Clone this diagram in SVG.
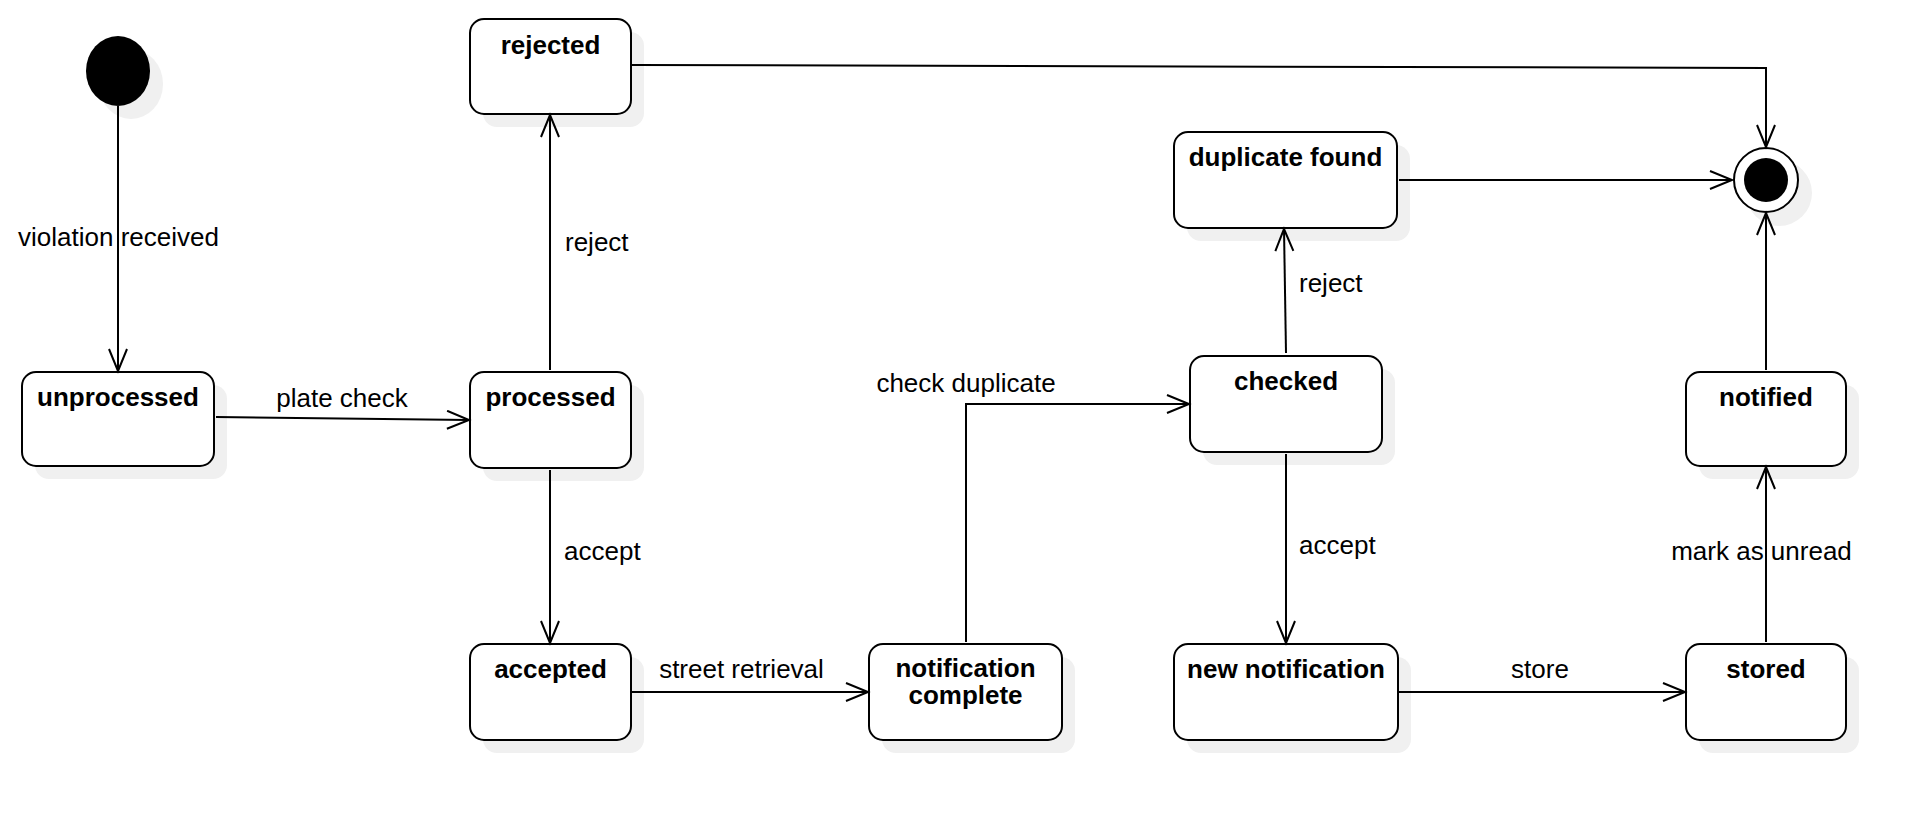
<svg xmlns="http://www.w3.org/2000/svg" width="1930" height="820" viewBox="0 0 1930 820">
<style>
.box{fill:#ffffff;stroke:#000000;stroke-width:2}
.sh{fill:#f0f0f0;stroke:none}
.nt{font-family:"Liberation Sans",Arial,Helvetica,sans-serif;font-size:26px;font-weight:bold;fill:#000;text-anchor:middle}
.lb{font-family:"Liberation Sans",Arial,Helvetica,sans-serif;font-size:26px;fill:#000}
.e{fill:none;stroke:#000;stroke-width:2}
</style>
<defs>
<marker id="arr" markerUnits="userSpaceOnUse" markerWidth="30" markerHeight="24" refX="23" refY="10" orient="auto" viewBox="0 0 30 24">
<path d="M1,1 L23,10 L1,19" fill="none" stroke="#000" stroke-width="2"/>
</marker>
</defs>
<rect width="1930" height="820" fill="#ffffff"/>

<g id="initial">
<ellipse cx="131" cy="84" rx="32" ry="35" class="sh"/>
<ellipse cx="118" cy="71" rx="32" ry="35" fill="#000"/>
</g>
<g id="final">
<circle cx="1779" cy="193" r="33" class="sh"/>
<circle cx="1766" cy="180" r="32" fill="#fff" stroke="#000" stroke-width="2"/>
<circle cx="1766" cy="180" r="22" fill="#000"/>
</g>

<g id="rejected">
<rect x="483" y="32" width="161" height="95" rx="14" class="sh"/>
<rect x="470" y="19" width="161" height="95" rx="14" class="box"/>
<text x="550.5" y="54" class="nt">rejected</text>
</g>
<g id="unprocessed">
<rect x="35" y="385" width="192" height="94" rx="14" class="sh"/>
<rect x="22" y="372" width="192" height="94" rx="14" class="box"/>
<text x="118" y="406" class="nt">unprocessed</text>
</g>
<g id="processed">
<rect x="483" y="385" width="161" height="96" rx="14" class="sh"/>
<rect x="470" y="372" width="161" height="96" rx="14" class="box"/>
<text x="550.5" y="406" class="nt">processed</text>
</g>
<g id="accepted">
<rect x="483" y="657" width="161" height="96" rx="14" class="sh"/>
<rect x="470" y="644" width="161" height="96" rx="14" class="box"/>
<text x="550.5" y="678" class="nt">accepted</text>
</g>
<g id="notification-complete">
<rect x="882" y="657" width="193" height="96" rx="14" class="sh"/>
<rect x="869" y="644" width="193" height="96" rx="14" class="box"/>
<text x="965.5" y="677" class="nt">notification</text>
<text x="965.5" y="704" class="nt">complete</text>
</g>
<g id="duplicate-found">
<rect x="1187" y="145" width="223" height="96" rx="14" class="sh"/>
<rect x="1174" y="132" width="223" height="96" rx="14" class="box"/>
<text x="1285.5" y="166" class="nt">duplicate found</text>
</g>
<g id="checked">
<rect x="1203" y="369" width="192" height="96" rx="14" class="sh"/>
<rect x="1190" y="356" width="192" height="96" rx="14" class="box"/>
<text x="1286" y="390" class="nt">checked</text>
</g>
<g id="new-notification">
<rect x="1187" y="657" width="224" height="96" rx="14" class="sh"/>
<rect x="1174" y="644" width="224" height="96" rx="14" class="box"/>
<text x="1286" y="678" class="nt">new notification</text>
</g>
<g id="stored">
<rect x="1699" y="657" width="160" height="96" rx="14" class="sh"/>
<rect x="1686" y="644" width="160" height="96" rx="14" class="box"/>
<text x="1766" y="678" class="nt">stored</text>
</g>
<g id="notified">
<rect x="1699" y="385" width="160" height="94" rx="14" class="sh"/>
<rect x="1686" y="372" width="160" height="94" rx="14" class="box"/>
<text x="1766" y="406" class="nt">notified</text>
</g>

<g id="connectors">
<path class="e" d="M118,106 L118,371" marker-end="url(#arr)"/>
<path class="e" d="M216,417 L469,420" marker-end="url(#arr)"/>
<path class="e" d="M550,370 L550,115" marker-end="url(#arr)"/>
<path class="e" d="M550,470 L550,643" marker-end="url(#arr)"/>
<path class="e" d="M632,692 L868,692" marker-end="url(#arr)"/>
<path class="e" d="M966,642 L966,404 L1189,404" marker-end="url(#arr)"/>
<path class="e" d="M1286,353 L1284,229" marker-end="url(#arr)"/>
<path class="e" d="M1286,454 L1286,643" marker-end="url(#arr)"/>
<path class="e" d="M1399,692 L1685,692" marker-end="url(#arr)"/>
<path class="e" d="M1766,642 L1766,467" marker-end="url(#arr)"/>
<path class="e" d="M1766,370 L1766,213" marker-end="url(#arr)"/>
<path class="e" d="M1399,180 L1732,180" marker-end="url(#arr)"/>
<path class="e" d="M632,65 L1766,68 L1766,147" marker-end="url(#arr)"/>
<text x="118.5" y="246" class="lb" text-anchor="middle">violation received</text>
<text x="342" y="407" class="lb" text-anchor="middle">plate check</text>
<text x="565" y="251" class="lb">reject</text>
<text x="564" y="560" class="lb">accept</text>
<text x="741.5" y="678" class="lb" text-anchor="middle">street retrieval</text>
<text x="966" y="392" class="lb" text-anchor="middle">check duplicate</text>
<text x="1299" y="292" class="lb">reject</text>
<text x="1299" y="554" class="lb">accept</text>
<text x="1540" y="678" class="lb" text-anchor="middle">store</text>
<text x="1761.5" y="560" class="lb" text-anchor="middle">mark as unread</text>
</g>
</svg>
